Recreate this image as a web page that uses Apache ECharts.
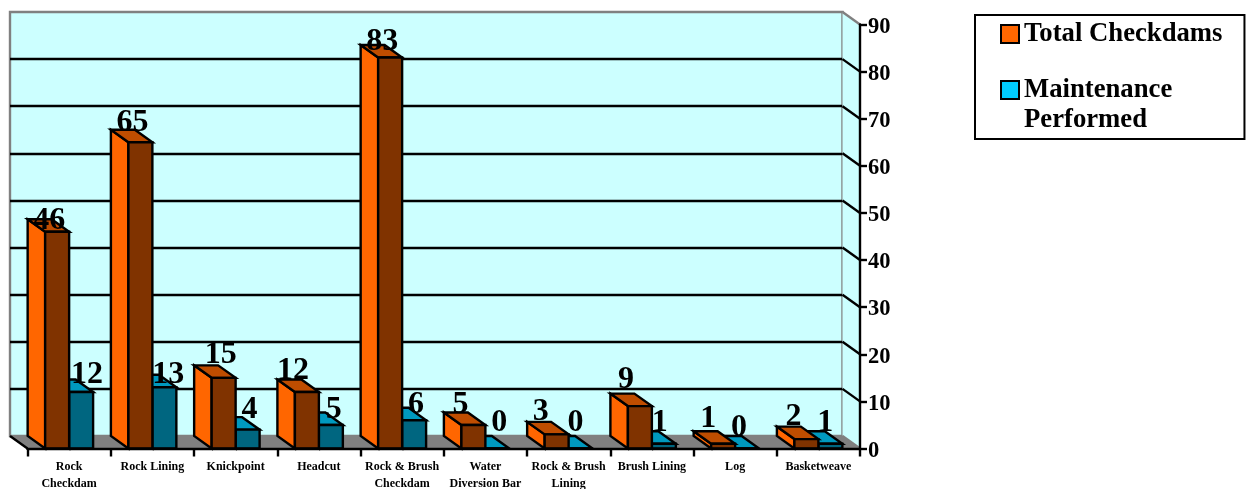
<!DOCTYPE html>
<html>
<head>
<meta charset="utf-8">
<style>html,body{margin:0;padding:0;background:#fff}#chart{width:1250px;height:489px}</style>
<script src="https://cdn.jsdelivr.net/npm/echarts@6/dist/echarts.min.js"></script>
</head>
<body>
<div id="chart"></div>
<script>
const categories = ['Rock\nCheckdam', 'Rock Lining', 'Knickpoint', 'Headcut', 'Rock & Brush\nCheckdam',
  'Water\nDiversion Bar', 'Rock & Brush\nLining', 'Brush Lining', 'Log', 'Basketweave'];
const totalCheckdams = [46, 65, 15, 12, 83, 5, 3, 9, 1, 2];
const maintenancePerformed = [12, 13, 4, 5, 6, 0, 0, 1, 0, 1];
const valueTicks = [0, 10, 20, 30, 40, 50, 60, 70, 80, 90];

// Hand-placed data label offsets [dx, dy] from the top centre of each bar's front face
const totalLabelOffsets = [[-8, -3], [-8, -12], [-3, -15], [-14, -13], [-8, -8], [-13, -12], [-16, -15], [-14, -18], [-15, -17], [-13, -14]];
const maintenanceLabelOffsets = [[6, -9], [4, -5], [2, -12], [3, -7], [2, -7], [2, -18], [-5, -18], [-4, -13], [-8, -13], [-5, -13]];

const FONT = '"Liberation Serif", "Times New Roman", serif';
const DEPTH_X = 17.5, DEPTH_Y = 12.5;
const BAR_RATIO = 0.288;
const LINE = 2.4;

const chart = echarts.init(document.getElementById('chart'), null, { renderer: 'canvas' });

const poly = (points, fill, stroke, width) => ({
  type: 'polygon',
  shape: { points },
  style: { fill, stroke: stroke || 'none', lineWidth: width === undefined ? LINE : width, lineJoin: 'miter' }
});

// Extruded column: side face, front face, top face. `side` places it left or right of the band centre.
function barRenderer(side, colors) {
  return function (params, api) {
    const band = api.size([1, 0])[0];
    const w = band * BAR_RATIO;
    const base = api.coord([api.value(0), 0]);
    const top = api.coord([api.value(0), api.value(1)]);
    const x0 = side < 0 ? base[0] - w : base[0];
    const x1 = x0 + w;
    const yb = base[1], yt = top[1];
    return {
      type: 'group',
      children: [
        poly([[x0, yb], [x0 - DEPTH_X, yb - DEPTH_Y], [x0 - DEPTH_X, yt - DEPTH_Y], [x0, yt]], colors.side, '#000'),
        poly([[x0, yt], [x0 - DEPTH_X, yt - DEPTH_Y], [x1 - DEPTH_X, yt - DEPTH_Y], [x1, yt]], colors.top, '#000'),
        poly([[x0, yb], [x0, yt], [x1, yt], [x1, yb]], colors.front, '#000')
      ]
    };
  };
}

// Value printed near the top of a column, above all bars
function labelRenderer(side, offsets) {
  return function (params, api) {
    const band = api.size([1, 0])[0];
    const w = band * BAR_RATIO;
    const top = api.coord([api.value(0), api.value(1)]);
    const off = offsets[params.dataIndex];
    return {
      type: 'text',
      silent: true,
      style: {
        x: top[0] + side * w / 2 + off[0],
        y: top[1] + off[1] + 8,
        text: String(api.value(1)),
        fill: '#000',
        font: 'bold 32px ' + FONT,
        textAlign: 'center',
        textVerticalAlign: 'bottom'
      }
    };
  };
}

// Floor, right side wall and the diagonal continuation of each gridline
function frameRenderer(params, api) {
  const cs = params.coordSys;
  const right = cs.x + cs.width, left = cs.x;
  const v = api.value(1);
  const y = api.coord([0, v])[1];
  const children = [];
  if (v === 0) {
    const yTop = api.coord([0, 90])[1];
    children.push(poly([[right, y], [right - DEPTH_X, y - DEPTH_Y], [right - DEPTH_X, yTop - DEPTH_Y], [right, yTop]], '#CCFFFF', 'none', 0));
    children.push(poly([[left, y], [left - DEPTH_X, y - DEPTH_Y], [right - DEPTH_X, y - DEPTH_Y], [right, y]], '#808080', '#808080', 1));
    children.push({ type: 'line', shape: { x1: left - DEPTH_X, y1: y - DEPTH_Y, x2: left, y2: y }, style: { stroke: '#000', lineWidth: LINE } });
    children.push({ type: 'line', shape: { x1: right - DEPTH_X, y1: y - DEPTH_Y, x2: right, y2: y }, style: { stroke: '#808080', lineWidth: LINE } });
  } else {
    children.push({
      type: 'line',
      shape: { x1: right - DEPTH_X, y1: y - DEPTH_Y, x2: right, y2: y },
      style: { stroke: v === 90 ? '#808080' : '#000', lineWidth: LINE }
    });
  }
  return { type: 'group', children };
}

const pairs = arr => arr.map((v, i) => [i, v]);

chart.setOption({
  animation: false,
  backgroundColor: '#fff',
  legend: {
    orient: 'vertical',
    align: 'left',
    left: 975,
    top: 15,
    padding: [4, 22, 4, 25],
    itemWidth: 18,
    itemHeight: 18,
    itemGap: -4,
    borderColor: '#000',
    borderWidth: 2,
    selectedMode: false,
    textStyle: { fontFamily: FONT, fontWeight: 'bold', fontSize: 26.7, color: '#000', lineHeight: 30 },
    // the leading blank line keeps the swatch level with the first line of the wrapped name
    formatter: name => name === 'Maintenance Performed' ? '\nMaintenance\nPerformed' : name,
    data: [
      { name: 'Total Checkdams', icon: 'rect', itemStyle: { color: '#FF6600', borderColor: '#000', borderWidth: 2 } },
      { name: 'Maintenance Performed', icon: 'rect', itemStyle: { color: '#00CCFF', borderColor: '#000', borderWidth: 2 } }
    ]
  },
  grid: [
    { left: 27.5, right: 390, top: 24.5, bottom: 40.5, show: false, outerBoundsMode: 'none' },
    // back wall, set behind the front plane
    { left: 10, right: 407.5, top: 12, bottom: 53, show: true, backgroundColor: '#CCFFFF', borderColor: '#808080', borderWidth: 2.4, outerBoundsMode: 'none' }
  ],
  xAxis: [
    {
      type: 'category', gridIndex: 0, data: categories, z: 6,
      axisLine: { show: true, lineStyle: { color: '#000', width: LINE } },
      axisTick: { show: true, alignWithLabel: false, length: 8, lineStyle: { color: '#000', width: LINE } },
      axisLabel: { interval: 0, margin: 10, color: '#000', fontFamily: FONT, fontWeight: 'bold', fontSize: 12, lineHeight: 17, hideOverlap: false }
    },
    { type: 'value', gridIndex: 1, show: false, min: 0, max: 1, splitLine: { show: false } }
  ],
  yAxis: [
    {
      type: 'value', gridIndex: 0, position: 'right', min: 0, max: 90, interval: 10, z: 6,
      axisLine: { show: true, onZero: false, lineStyle: { color: '#000', width: LINE } },
      axisTick: { show: true, length: 7, lineStyle: { color: '#000', width: LINE } },
      // labels sit slightly below their ticks: a short line box anchored at the tick
      axisLabel: { margin: 8, color: '#000', fontFamily: FONT, fontWeight: 'bold', fontSize: 22.5, verticalAlign: 'top', lineHeight: 5 },
      splitLine: { show: false }
    },
    {
      type: 'value', gridIndex: 1, min: 0, max: 90, interval: 10,
      axisLine: { show: false }, axisTick: { show: false }, axisLabel: { show: false },
      splitLine: { show: true, showMinLine: false, showMaxLine: false, lineStyle: { color: '#000', width: LINE } }
    }
  ],
  series: [
    {
      name: 'frame', type: 'custom', xAxisIndex: 0, yAxisIndex: 0, z: 1, silent: true,
      renderItem: frameRenderer, encode: { x: 0, y: 1 },
      data: valueTicks.map(v => [0, v])
    },
    {
      name: 'Maintenance Performed', type: 'custom', xAxisIndex: 0, yAxisIndex: 0, z: 3, silent: true,
      itemStyle: { color: '#00CCFF' },
      renderItem: barRenderer(1, { side: '#00CCFF', front: '#006680', top: '#0099BF' }),
      encode: { x: 0, y: 1 }, data: pairs(maintenancePerformed)
    },
    {
      name: 'Total Checkdams', type: 'custom', xAxisIndex: 0, yAxisIndex: 0, z: 4, silent: true,
      itemStyle: { color: '#FF6600' },
      renderItem: barRenderer(-1, { side: '#FF6600', front: '#803300', top: '#BF4D00' }),
      encode: { x: 0, y: 1 }, data: pairs(totalCheckdams)
    },
    {
      name: 'total values', type: 'custom', xAxisIndex: 0, yAxisIndex: 0, z: 8, silent: true,
      renderItem: labelRenderer(-1, totalLabelOffsets), encode: { x: 0, y: 1 }, data: pairs(totalCheckdams)
    },
    {
      name: 'maintenance values', type: 'custom', xAxisIndex: 0, yAxisIndex: 0, z: 8, silent: true,
      renderItem: labelRenderer(1, maintenanceLabelOffsets), encode: { x: 0, y: 1 }, data: pairs(maintenancePerformed)
    }
  ]
});
</script>
</body>
</html>
